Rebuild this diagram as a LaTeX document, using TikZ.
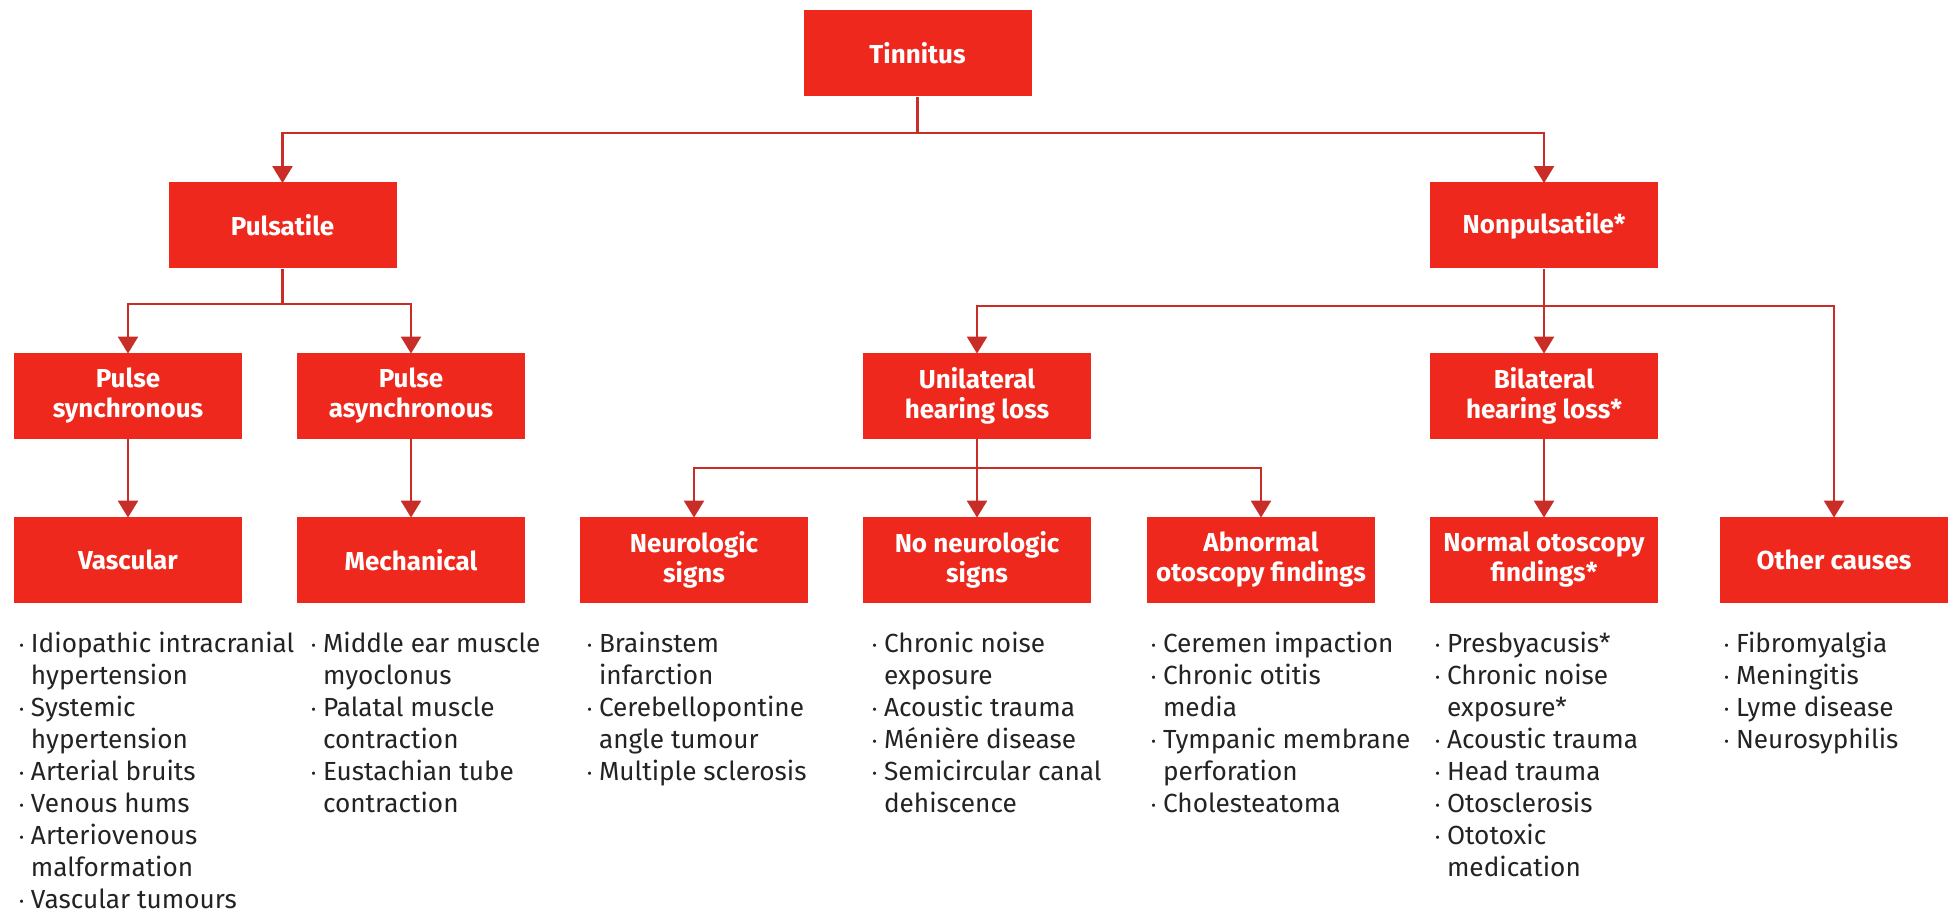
\documentclass[tikz,border=0pt]{standalone}
\usepackage{fontspec}
\setmainfont{Fira Sans}
\usetikzlibrary{arrows.meta}
\definecolor{boxred}{RGB}{238,40,28}
\definecolor{linered}{RGB}{200,45,40}
\definecolor{txt}{RGB}{35,35,35}
\newcommand{\bul}{\makebox[5.8pt][l]{\raisebox{0.6pt}{\fontsize{7}{7}\selectfont •}}}
\newcommand{\ind}{\hspace*{5.8pt}}
\tikzset{
  box/.style={draw=none, fill=boxred, text=white, minimum width=114pt, minimum height=43pt,
    inner sep=1pt, align=center, font=\fontsize{13}{15}\selectfont\bfseries},
  lst/.style={anchor=base west, align=left, inner sep=0pt, text=txt,
    font=\fontsize{13.1}{16}\selectfont},
  conn/.style={draw=linered, line width=1.2pt},
  arr/.style={conn, -{Triangle[width=10pt,length=8.5pt]}, shorten >=-0.5pt}
}
\begin{document}
\begin{tikzpicture}[x=0.5pt, y=-0.5pt]
\useasboundingbox (0,0) rectangle (1957,919);
% boxes
\node[box] (tin) at (917.5,53.5) {Tinnitus};
\node[box] (pul) at (282.5,225.5) {Pulsatile};
\node[box] (non) at (1544,225.5) {Nonpulsatile*};
\node[box] (psy) at (128,396) {Pulse\\synchronous};
\node[box] (pas) at (411,396) {Pulse\\asynchronous};
\node[box] (uni) at (977,396) {Unilateral\\hearing loss};
\node[box] (bil) at (1544,396) {Bilateral\\hearing loss*};
\node[box] (vas) at (128,560) {Vascular};
\node[box] (mec) at (411,560) {Mechanical};
\node[box] (neu) at (694,560) {Neurologic\\signs};
\node[box] (nno) at (977,560) {No neurologic\\signs};
\node[box] (abn) at (1261,560) {Abnormal\\otoscopy findings};
\node[box] (nor) at (1544,560) {Normal otoscopy\\findings*};
\node[box] (oth) at (1834,560) {Other causes};
% bus points
\coordinate (b1) at (917.5,133);
\coordinate (b2) at (282.5,304);
\coordinate (b3) at (1544,306);
\coordinate (b4) at (977,468);
% connectors
\draw[conn] (tin.south) -- (b1);
\draw[arr] (b1) -| (pul.north);
\draw[arr] (b1) -| (non.north);
\draw[conn] (pul.south) -- (b2);
\draw[arr] (b2) -| (psy.north);
\draw[arr] (b2) -| (pas.north);
\draw[arr] (non.south) -- (bil.north);
\draw[arr] (b3) -| (uni.north);
\draw[arr] (b3) -| (oth.north);
\draw[arr] (psy.south) -- (vas.north);
\draw[arr] (pas.south) -- (mec.north);
\draw[arr] (uni.south) -- (nno.north);
\draw[arr] (b4) -| (neu.north);
\draw[arr] (b4) -| (abn.north);
\draw[arr] (bil.south) -- (nor.north);
% lists (anchored at the baseline of their last line; 32px per line, first baseline at 652)
\node[lst] (lvas) at (19,908) {\bul Idiopathic intracranial\\\ind hypertension\\\bul Systemic\\\ind hypertension\\\bul Arterial bruits\\\bul Venous hums\\\bul Arteriovenous\\\ind malformation\\\bul Vascular tumours};
\node[lst] (lmec) at (311,812) {\bul Middle ear muscle\\\ind myoclonus\\\bul Palatal muscle\\\ind contraction\\\bul Eustachian tube\\\ind contraction};
\node[lst] (lneu) at (587,780) {\bul Brainstem\\\ind infarction\\\bul Cerebellopontine\\\ind angle tumour\\\bul Multiple sclerosis};
\node[lst] (lnno) at (872,812) {\bul Chronic noise\\\ind exposure\\\bul Acoustic trauma\\\bul Ménière disease\\\bul Semicircular canal\\\ind dehiscence};
\node[lst] (labn) at (1151,812) {\bul Ceremen impaction\\\bul Chronic otitis\\\ind media\\\bul Tympanic membrane\\\ind perforation\\\bul Cholesteatoma};
\node[lst] (lnor) at (1435,876) {\bul Presbyacusis*\\\bul Chronic noise\\\ind exposure*\\\bul Acoustic trauma\\\bul Head trauma\\\bul Otosclerosis\\\bul Ototoxic\\\ind medication};
\node[lst] (loth) at (1724,748) {\bul Fibromyalgia\\\bul Meningitis\\\bul Lyme disease\\\bul Neurosyphilis};
\end{tikzpicture}
\end{document}
